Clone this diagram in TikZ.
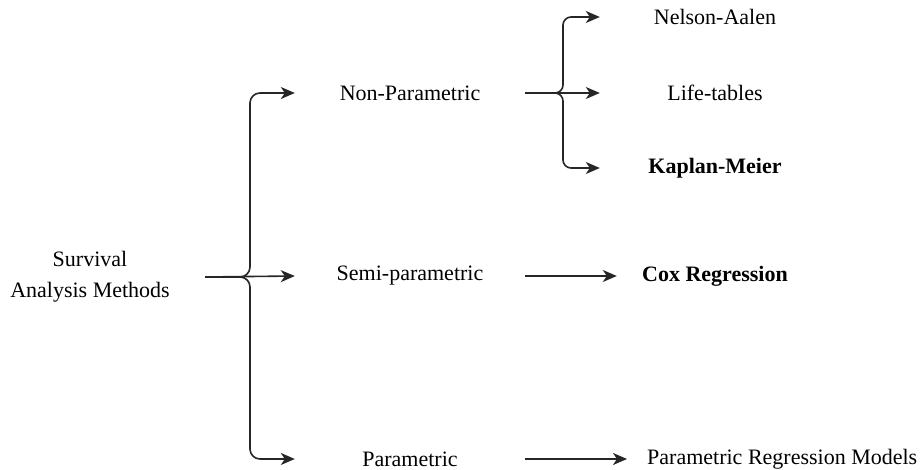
\documentclass[tikz,border=0pt]{standalone}
\usepackage{fontspec}
\setmainfont{Liberation Serif}
\usetikzlibrary{arrows.meta}
\begin{document}
\begin{tikzpicture}[x=1pt,y=-1pt,
  lbl/.style={font=\fontsize{22}{31}\selectfont, inner sep=0pt, align=center, text=black},
  colw/.style={lbl, minimum width=230pt},
  conn/.style={line width=1.6pt, draw=black!85},
  arr/.style={conn, -{Stealth[length=14pt,width=12pt,inset=4pt]}},
  brace/.style={arr, rounded corners=10pt}]
\useasboundingbox (0,0) rectangle (924,470);
% nodes
\node[colw] (sam) at (90,277) {Survival\\Analysis Methods};
\node[colw] (np) at (410,93) {Non-Parametric};
\node[colw] (sp) at (410,276) {Semi-parametric};
\node[colw] (pa) at (410,459) {Parametric};
\node[colw] (na) at (715,17) {Nelson-Aalen};
\node[colw] (lt) at (715,93) {Life-tables};
\node[colw, font=\fontsize{22}{31}\selectfont\bfseries] (km) at (715,168) {Kaplan-Meier};
\node[lbl, minimum width=196pt, font=\fontsize{22}{31}\selectfont\bfseries] (cox) at (715,276) {Cox Regression};
\node[lbl, anchor=west, inner xsep=20pt] (prm) at (627,459) {Parametric Regression Models};
% junctions
\coordinate (j1) at (250,277);
\coordinate (j2) at (563,93);
% main brace
\draw[brace] (sam.east) -- (j1) -- (j1 |- np.west) -- (np.west);
\draw[brace] (sam.east) -- (j1) -- (j1 |- pa.west) -- (pa.west);
\draw[arr] (sam.east) -- (sp.west);
% second brace
\draw[brace, rounded corners=8pt] (np.east) -- (j2) -- (j2 |- na.west) -- (na.west);
\draw[brace, rounded corners=8pt] (np.east) -- (j2) -- (j2 |- km.west) -- (km.west);
\draw[arr] (np.east) -- (lt.west);
% straight arrows
\draw[arr] (sp.east) -- (cox.west);
\draw[arr] (pa.east) -- (prm.west);
\end{tikzpicture}
\end{document}
